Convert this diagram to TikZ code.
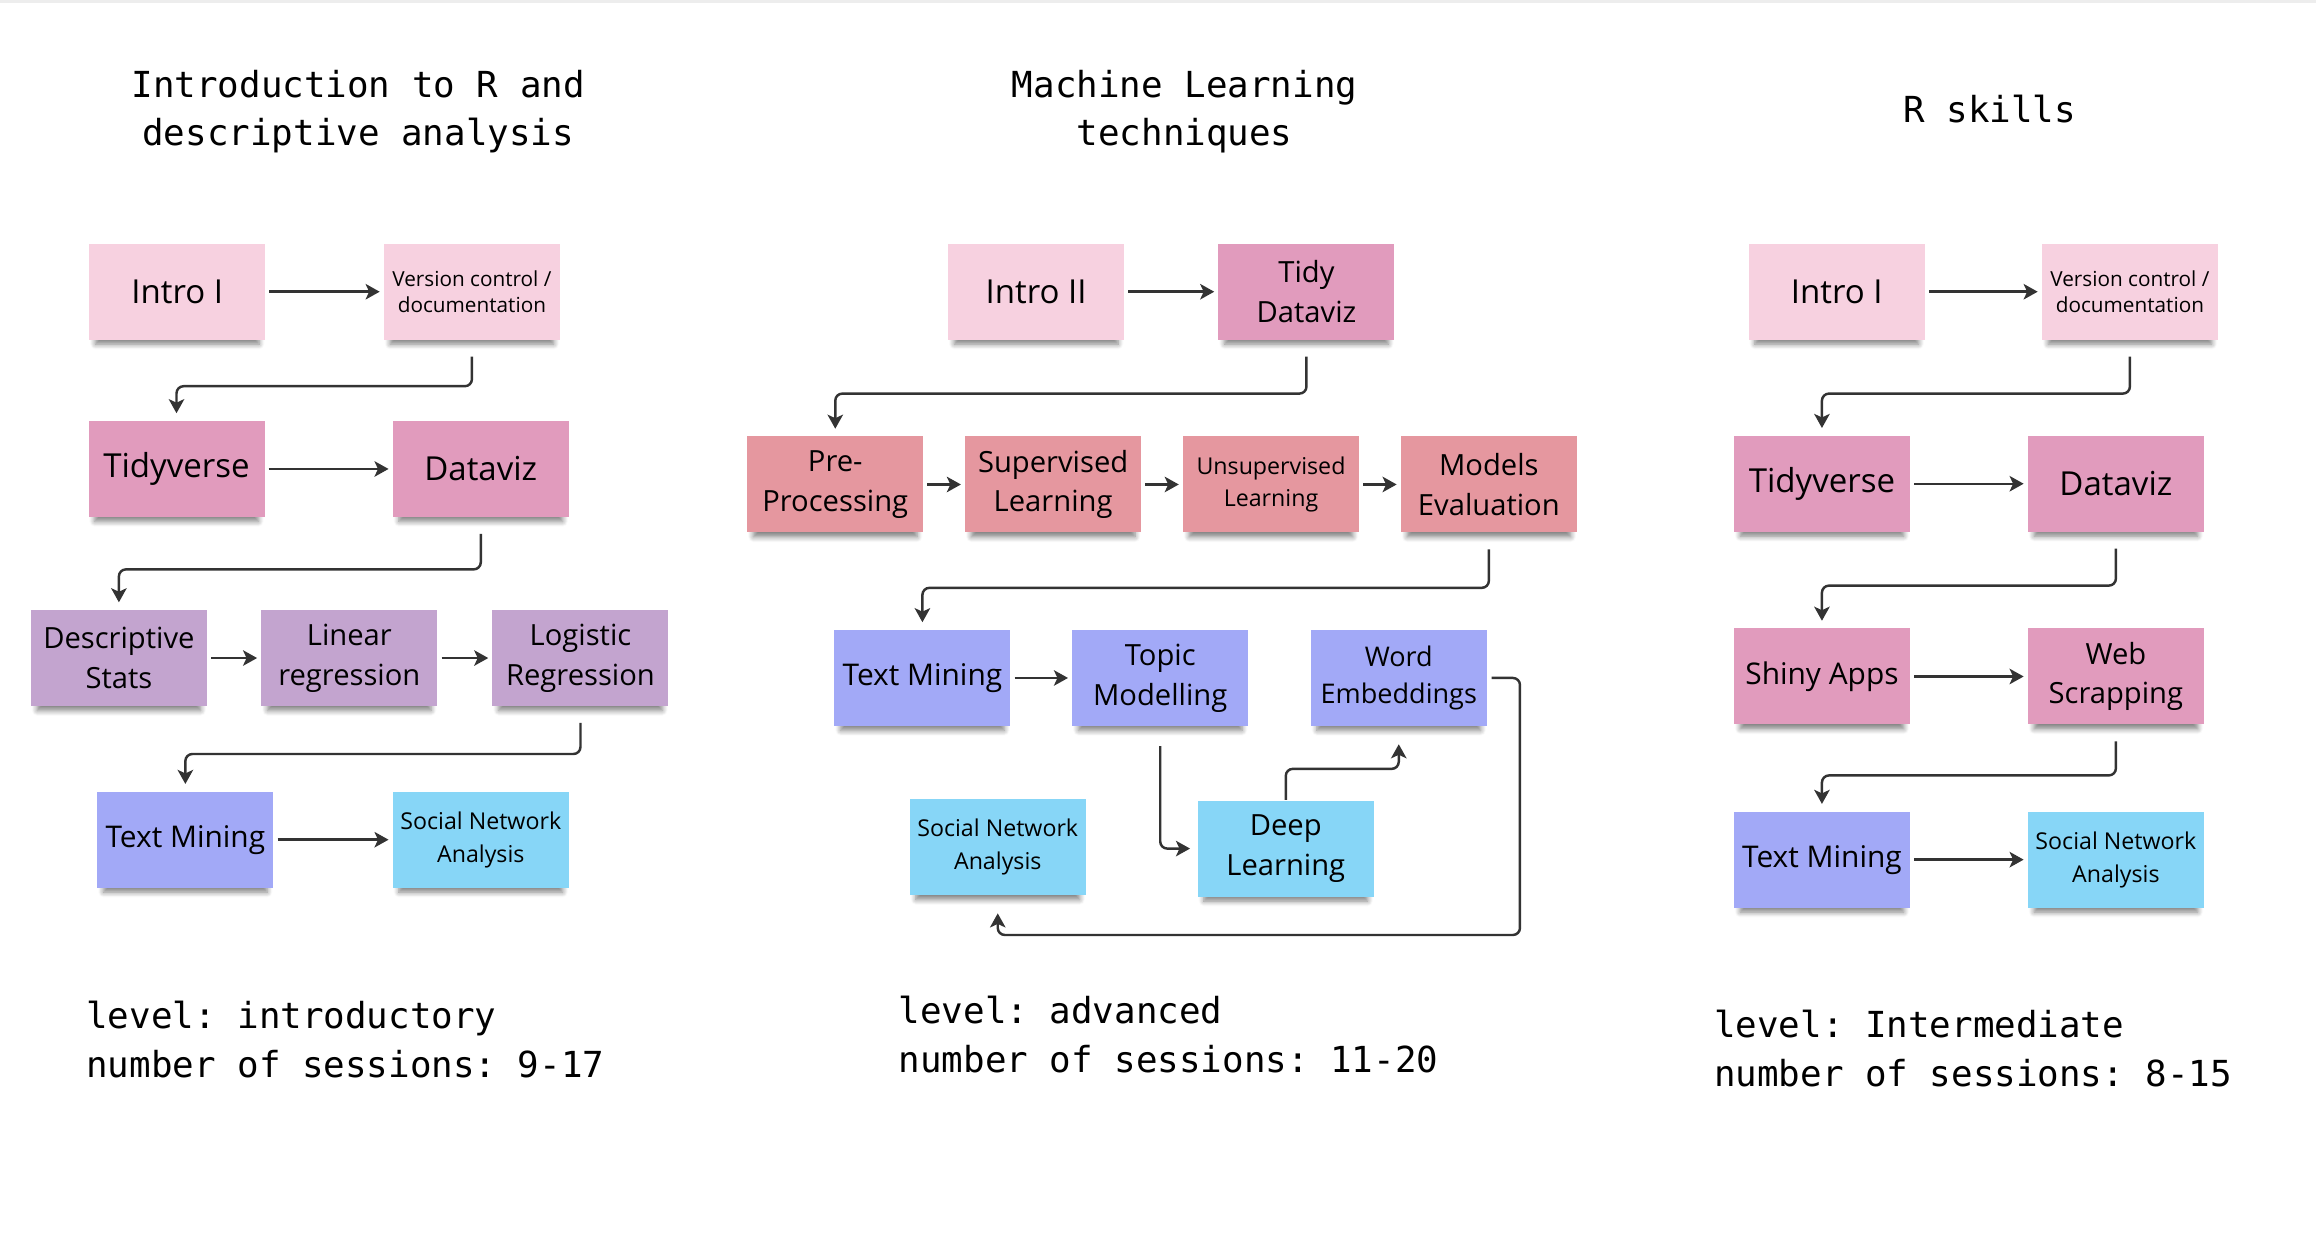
\documentclass[tikz,border=0pt]{standalone}
\usepackage{fontspec}
\setmainfont{Open Sans}
\setmonofont{DejaVu Sans Mono}
\usetikzlibrary{arrows.meta,shadows.blur}

\definecolor{notelight}{HTML}{F7D1E0}
\definecolor{notepink}{HTML}{E19BBD}
\definecolor{notepurple}{HTML}{C3A4CF}
\definecolor{notesalmon}{HTML}{E5979F}
\definecolor{noteblue}{HTML}{A2A9F7}
\definecolor{notecyan}{HTML}{87D6F7}
\definecolor{linkgray}{HTML}{333333}

\tikzset{
  note/.style={rectangle, minimum width=1.76cm, minimum height=0.96cm, inner sep=1pt,
    align=center, font=\fontsize{8.3}{11.3}\selectfont,
    blur shadow={shadow xshift=0pt, shadow yshift=-2.4pt, shadow scale=0.93,
      shadow opacity=50, shadow blur radius=1.6pt, shadow blur steps=6}},
  bigtext/.style={font=\fontsize{9.4}{11.3}\selectfont},
  onetext/.style={font=\fontsize{8.5}{11.3}\selectfont},
  smalltext/.style={font=\fontsize{5.9}{7.6}\selectfont},
  midtext/.style={font=\fontsize{6.6}{9.3}\selectfont},
  light/.style={note, fill=notelight},
  pink/.style={note, fill=notepink},
  purple/.style={note, fill=notepurple},
  salmon/.style={note, fill=notesalmon},
  blue/.style={note, fill=noteblue},
  cyan/.style={note, fill=notecyan},
  link/.style={draw=linkgray, line width=0.7pt, -{Stealth[length=4pt,width=4.4pt,inset=1pt]},
    shorten <=1pt, shorten >=1pt},
  turn/.style={link, rounded corners=2pt, shorten <=4.6pt, shorten >=2pt},
  heading/.style={font=\ttfamily\fontsize{10.2}{13.6}\selectfont, align=center},
  info/.style={font=\ttfamily\fontsize{10.2}{13.9}\selectfont, align=left, anchor=west, inner sep=0pt},
}

\begin{document}
\begin{tikzpicture}[x=0.01477cm,y=-0.01477cm]
\useasboundingbox (0,0) rectangle (1568,839.6);
\draw[black!7, line width=1.5pt] (0,0) -- (1568,0);
%
% headings
\node[heading] (head1) at (242.5,75.5) {Introduction to R and\\descriptive analysis};
\node[heading] (head2) at (802,75.5) {Machine Learning\\techniques};
\node[heading] (head3) at (1347,74) {R skills};
%
% first track
\node[light, bigtext] (intro1) at (120,197.5) {Intro I};
\node[light, smalltext] (vc1) at (319.5,197.5) {Version control /\\documentation};
\node[pink, bigtext] (tidy1) at (119.5,317.5) {Tidyverse};
\node[pink, bigtext] (viz1) at (325.5,317.5) {Dataviz};
\node[purple] (desc) at (80.5,445.5) {Descriptive\\Stats};
\node[purple] (lin) at (236.5,445.5) {Linear\\regression};
\node[purple] (logit) at (393,445.5) {Logistic\\Regression};
\node[blue, onetext] (tm1) at (125.5,568.5) {Text Mining};
\node[cyan, midtext] (sna1) at (325.5,568.5) {Social Network\\Analysis};
%
\draw[link] (intro1) -- (vc1);
\draw[turn] (vc1.south) -- ++(0,31) -| (tidy1.north);
\draw[link] (tidy1) -- (viz1);
\draw[turn] (viz1.south) -- ++(0,35) -| (desc.north);
\draw[link] (desc) -- (lin);
\draw[link] (lin) -- (logit);
\draw[turn] (logit.south) -- ++(0,32) -| (tm1.north);
\draw[link] (tm1) -- (sna1);
%
% second track
\node[light, bigtext] (intro2) at (701.5,197.5) {Intro II};
\node[pink] (tdv) at (884.5,197.5) {Tidy\\Dataviz};
\node[salmon] (pre) at (565.5,328) {Pre-\\Processing};
\node[salmon] (sup) at (713,328) {Supervised\\Learning};
\node[salmon, midtext] (unsup) at (860.5,328) {Unsupervised\\Learning};
\node[salmon] (eval) at (1008,328) {Models\\Evaluation};
\node[blue, onetext] (tm2) at (624.5,459) {Text Mining};
\node[blue] (topic) at (785.5,459) {Topic\\Modelling};
\node[blue, font=\fontsize{7.7}{10.5}\selectfont] (word) at (947,459) {Word\\Embeddings};
\node[cyan] (deep) at (870.5,574.5) {Deep\\Learning};
\node[cyan, midtext] (sna2) at (675.5,573.5) {Social Network\\Analysis};
%
\draw[link] (intro2) -- (tdv);
\draw[turn] (tdv.south) -- ++(0,36) -| (pre.north);
\draw[link] (pre) -- (sup);
\draw[link] (sup) -- (unsup);
\draw[link] (unsup) -- (eval);
\draw[turn] (eval.south) -- ++(0,37) -| (tm2.north);
\draw[link] (tm2) -- (topic);
\draw[turn, shorten <=5.5pt] (topic.south) |- (deep.west);
\draw[turn, shorten <=0pt, shorten >=5pt] (deep.north) -- ++(0,-21) -| (word.south);
\draw[turn, shorten <=1.2pt, shorten >=5pt] (word.east) -- ++(22,0) -- ++(0,174) -| (sna2.south);
%
% third track
\node[light, bigtext] (intro3) at (1243.5,197.5) {Intro I};
\node[light, smalltext] (vc3) at (1442,197.5) {Version control /\\documentation};
\node[pink, bigtext] (tidy3) at (1233.5,327.5) {Tidyverse};
\node[pink, bigtext] (viz3) at (1432.5,327.5) {Dataviz};
\node[pink, onetext] (shiny) at (1233.5,458) {Shiny Apps};
\node[pink] (web) at (1432.5,458) {Web\\Scrapping};
\node[blue, onetext] (tm3) at (1233.5,582) {Text Mining};
\node[cyan, midtext] (sna3) at (1432.5,582) {Social Network\\Analysis};
%
\draw[link] (intro3) -- (vc3);
\draw[turn] (vc3.south) -- ++(0,36) -| (tidy3.north);
\draw[link] (tidy3) -- (viz3);
\draw[turn] (viz3.south) -- ++(0,36) -| (shiny.north);
\draw[link] (shiny) -- (web);
\draw[turn] (web.south) -- ++(0,34) -| (tm3.north);
\draw[link] (tm3) -- (sna3);
%
% levels
\node[info] (lvl1) at (58,703.5) {level: introductory\\number of sessions: 9-17};
\node[info] (lvl2) at (608,700.5) {level: advanced\\number of sessions: 11-20};
\node[info] (lvl3) at (1160,710) {level: Intermediate\\number of sessions: 8-15};
\end{tikzpicture}
\end{document}
